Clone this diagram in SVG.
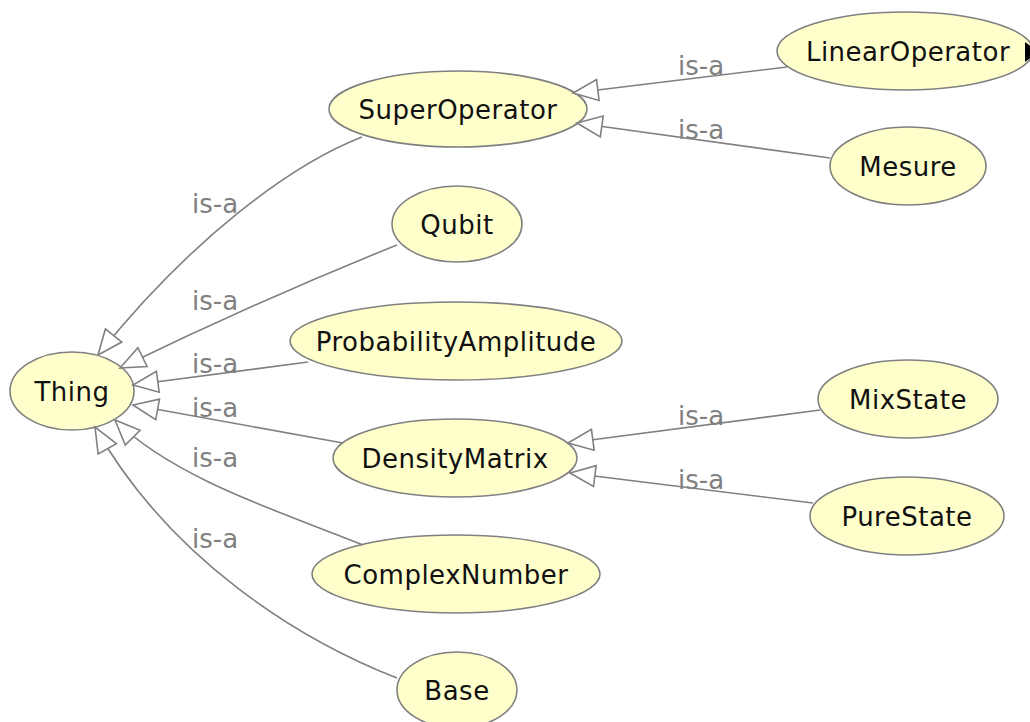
<svg xmlns="http://www.w3.org/2000/svg" width="1030" height="722" viewBox="0 0 1030 722">
<style>
.node ellipse{fill:#ffffcc;stroke:#808080;stroke-width:1.6}
.node text{font-family:"DejaVu Sans",sans-serif;font-size:26px;letter-spacing:0.5px;fill:#111;text-anchor:middle}
.edge{fill:none;stroke:#808080;stroke-width:1.6;marker-end:url(#tri)}
.lbl{font-family:"DejaVu Sans",sans-serif;font-size:26px;fill:#808080}
</style>
<defs>
<marker id="tri" markerUnits="userSpaceOnUse" markerWidth="30" markerHeight="26" refX="26" refY="12" orient="auto" overflow="visible">
<path d="M26,12 L1,1.5 L1,22.5 Z" fill="#fff" stroke="#808080" stroke-width="1.6"/>
</marker>
</defs>
<rect width="1030" height="722" fill="#fff"/>
<g id="nodes">
<g id="Thing" class="node"><ellipse cx="72" cy="391" rx="62" ry="39"/><text x="72" y="401">Thing</text></g>
<g id="SuperOperator" class="node"><ellipse cx="458" cy="109" rx="129" ry="38"/><text x="458" y="119">SuperOperator</text></g>
<g id="Qubit" class="node"><ellipse cx="457" cy="224" rx="65" ry="38"/><text x="457" y="234">Qubit</text></g>
<g id="ProbabilityAmplitude" class="node"><ellipse cx="456" cy="341" rx="166" ry="39"/><text x="456" y="351">ProbabilityAmplitude</text></g>
<g id="DensityMatrix" class="node"><ellipse cx="455" cy="458" rx="122" ry="39"/><text x="455" y="468">DensityMatrix</text></g>
<g id="ComplexNumber" class="node"><ellipse cx="456" cy="574" rx="144" ry="39"/><text x="456" y="584">ComplexNumber</text></g>
<g id="Base" class="node"><ellipse cx="457" cy="690" rx="60" ry="38"/><text x="457" y="700">Base</text></g>
<g id="LinearOperator" class="node"><ellipse cx="905" cy="51" rx="128" ry="39"/><text x="908" y="61">LinearOperator</text><polygon points="1025,42 1038,52 1025,62" fill="#000"/></g>
<g id="Mesure" class="node"><ellipse cx="908" cy="166" rx="78" ry="39"/><text x="908" y="176">Mesure</text></g>
<g id="MixState" class="node"><ellipse cx="908" cy="399" rx="90" ry="39"/><text x="908" y="409">MixState</text></g>
<g id="PureState" class="node"><ellipse cx="907" cy="516" rx="97" ry="39"/><text x="907" y="526">PureState</text></g>
</g>
<g id="connectors">
<path class="edge" d="M362,137 C290,165 190,240 98,355"/>
<path class="edge" d="M397,245 Q260,300 120,368"/>
<path class="edge" d="M308,362 L133,385"/>
<path class="edge" d="M343,443 L133,405"/>
<path class="edge" d="M363,545 C290,515 175,480 115,420"/>
<path class="edge" d="M397,678 C300,640 170,560 95,427"/>
<path class="edge" d="M787,67 L573,93"/>
<path class="edge" d="M830,158 L577,123"/>
<path class="edge" d="M820,410 L568,443"/>
<path class="edge" d="M813,503 L570,473"/>
<text class="lbl" x="192" y="213">is-a</text>
<text class="lbl" x="192" y="310">is-a</text>
<text class="lbl" x="192" y="373">is-a</text>
<text class="lbl" x="192" y="417">is-a</text>
<text class="lbl" x="192" y="467">is-a</text>
<text class="lbl" x="192" y="548">is-a</text>
<text class="lbl" x="678" y="75">is-a</text>
<text class="lbl" x="678" y="139">is-a</text>
<text class="lbl" x="678" y="425">is-a</text>
<text class="lbl" x="678" y="489">is-a</text>
</g>
</svg>
